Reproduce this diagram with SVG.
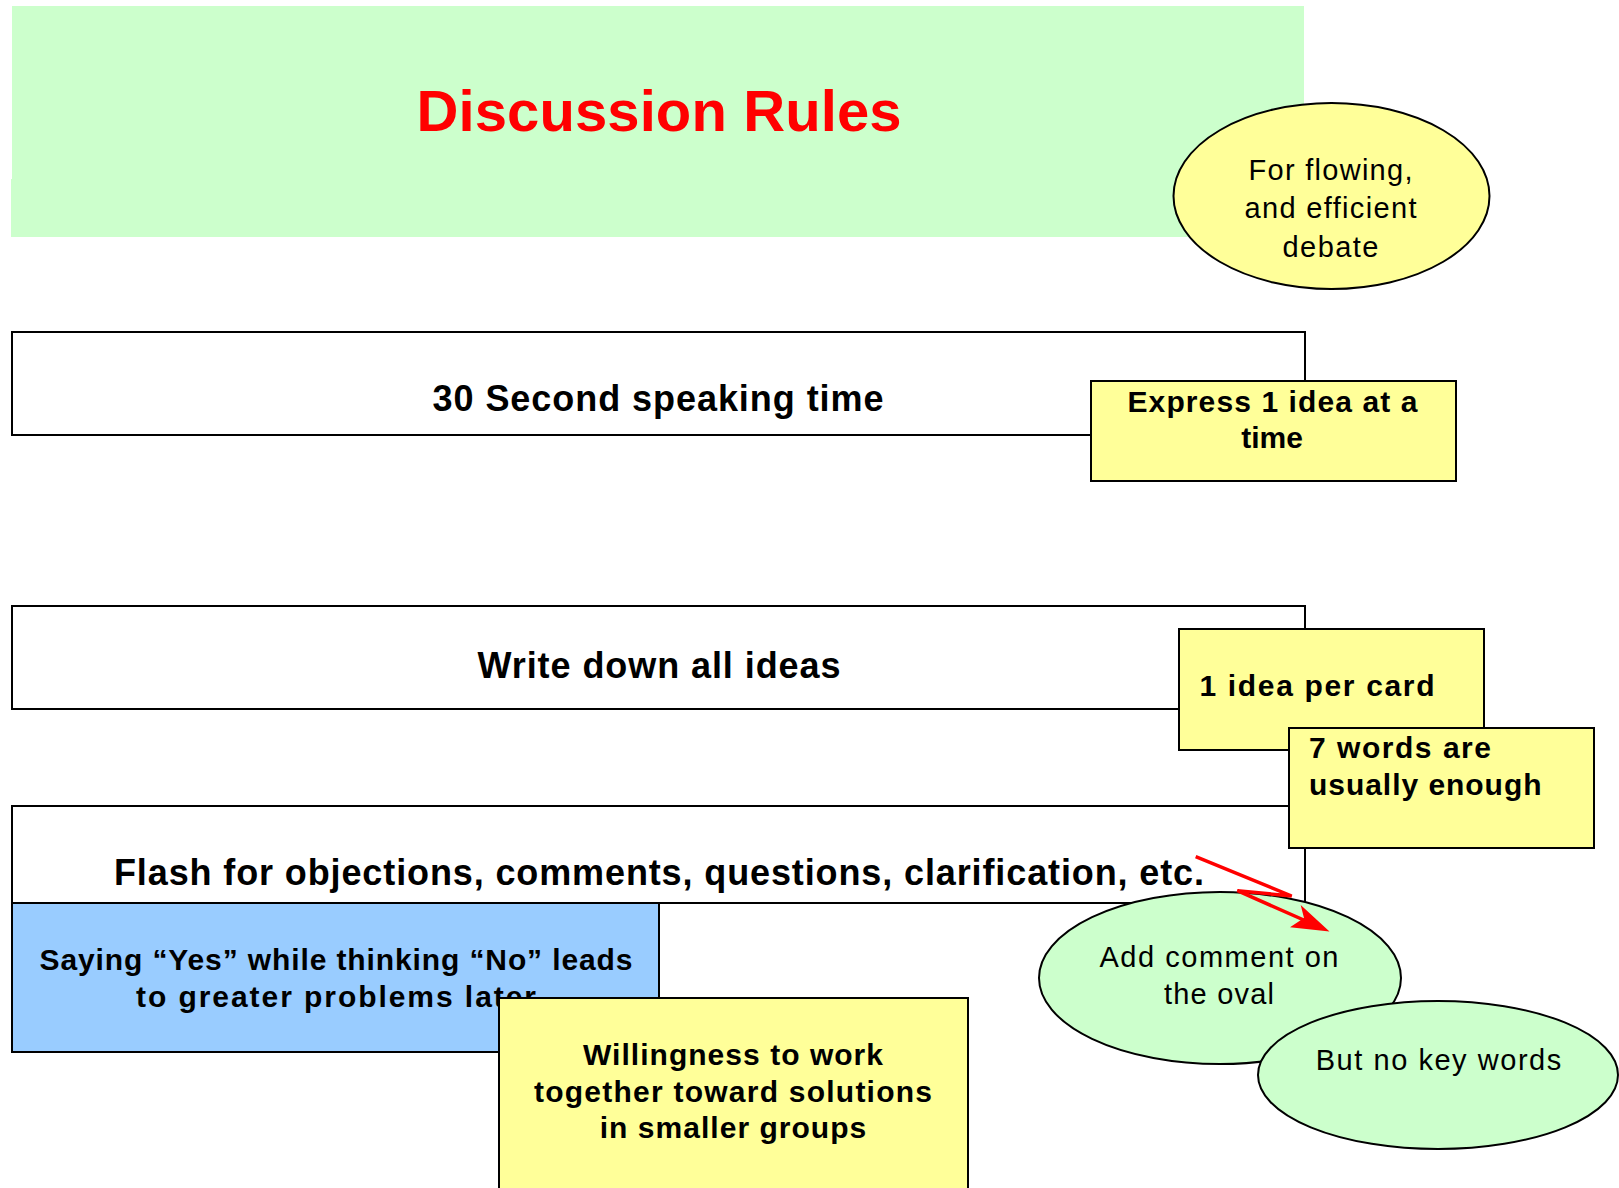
<svg xmlns="http://www.w3.org/2000/svg" width="1619" height="1188" viewBox="0 0 1619 1188">
<style>
.box{fill:#FFFFFF;stroke:#000;stroke-width:2}
.note{fill:#FFFF99;stroke:#000;stroke-width:2}
.blue{fill:#99CCFF;stroke:#000;stroke-width:2}
.oval-y{fill:#FFFF99;stroke:#000;stroke-width:2}
.oval-g{fill:#CCFFCC;stroke:#000;stroke-width:2}
.b36{font-family:"Liberation Sans",Arial,sans-serif;font-weight:bold;font-size:36px;fill:#000}
.b30{font-family:"Liberation Sans",Arial,sans-serif;font-weight:bold;font-size:30px;fill:#000}
.r29{font-family:"Liberation Sans",Arial,sans-serif;font-size:29px;fill:#000}
.mid{text-anchor:middle}
</style>
<rect width="1619" height="1188" fill="#FFFFFF"/>
<g id="title">
<path d="M12,6 H1304 V237 H11 V179 H12 Z" fill="#CCFFCC"/>
<text x="659" y="131" class="mid" font-family="Liberation Sans,Arial,sans-serif" font-weight="bold" font-size="58" fill="#FF0000" textLength="485" lengthAdjust="spacing">Discussion Rules</text>
</g>
<g id="purpose">
<ellipse class="oval-y" cx="1331.5" cy="196" rx="158" ry="93"/>
<text class="r29 mid" x="1330.5" y="180" textLength="164" lengthAdjust="spacing">For flowing,</text>
<text class="r29 mid" x="1330.5" y="218" textLength="172" lengthAdjust="spacing">and efficient</text>
<text class="r29 mid" x="1330.5" y="257" textLength="96" lengthAdjust="spacing">debate</text>
</g>
<g id="rule-speaking">
<rect class="box" x="12" y="332" width="1293" height="103"/>
<text class="b36 mid" x="658" y="411" textLength="451" lengthAdjust="spacing">30 Second speaking time</text>
</g>
<g id="note-express">
<rect class="note" x="1091" y="381" width="365" height="100"/>
<text class="b30 mid" x="1272.5" y="412" textLength="290" lengthAdjust="spacing">Express 1 idea at a</text>
<text class="b30 mid" x="1272" y="448">time</text>
</g>
<g id="rule-write">
<rect class="box" x="12" y="606" width="1293" height="103"/>
<text class="b36 mid" x="659" y="678" textLength="363" lengthAdjust="spacing">Write down all ideas</text>
</g>
<g id="note-card">
<rect class="note" x="1179" y="629" width="305" height="121"/>
<text class="b30" x="1199.5" y="696" textLength="235" lengthAdjust="spacing">1 idea per card</text>
</g>
<g id="rule-flash">
<rect class="box" x="12" y="806" width="1293" height="97"/>
<text class="b36 mid" x="659" y="885" textLength="1090" lengthAdjust="spacing">Flash for objections, comments, questions, clarification, etc.</text>
</g>
<g id="note-words">
<rect class="note" x="1289" y="728" width="305" height="120"/>
<text class="b30" x="1309" y="758" textLength="182" lengthAdjust="spacing">7 words are</text>
<text class="b30" x="1309" y="795" textLength="232.5" lengthAdjust="spacing">usually enough</text>
</g>
<g id="warning">
<rect class="blue" x="12" y="903" width="647" height="149"/>
<text class="b30 mid" x="336" y="970" textLength="593" lengthAdjust="spacing">Saying “Yes” while thinking “No” leads</text>
<text class="b30 mid" x="336" y="1007" textLength="400" lengthAdjust="spacing">to greater problems later</text>
</g>
<g id="note-willingness">
<rect class="note" x="499" y="998" width="469" height="210"/>
<text class="b30 mid" x="733" y="1065" textLength="300" lengthAdjust="spacing">Willingness to work</text>
<text class="b30 mid" x="733" y="1102" textLength="398" lengthAdjust="spacing">together toward solutions</text>
<text class="b30 mid" x="733" y="1138" textLength="266.5" lengthAdjust="spacing">in smaller groups</text>
</g>
<g id="oval-comment">
<ellipse class="oval-g" cx="1220" cy="978" rx="181" ry="86"/>
<text class="r29 mid" x="1219" y="967" textLength="239" lengthAdjust="spacing">Add comment on</text>
<text class="r29 mid" x="1219" y="1004" textLength="110" lengthAdjust="spacing">the oval</text>
</g>
<g id="oval-nokey">
<ellipse class="oval-g" cx="1438" cy="1075" rx="180" ry="74"/>
<text class="r29 mid" x="1438.5" y="1070" textLength="245.5" lengthAdjust="spacing">But no key words</text>
</g>
<g id="connectors">
<polyline points="1195.7,856.7 1291.7,896 1237.3,890.7 1306,921" fill="none" stroke="#FF0000" stroke-width="3.5" stroke-linejoin="miter"/>
<polygon points="1329.5,931.5 1300.7,905 1304,918 1290,927.3" fill="#FF0000"/>
</g>
</svg>
